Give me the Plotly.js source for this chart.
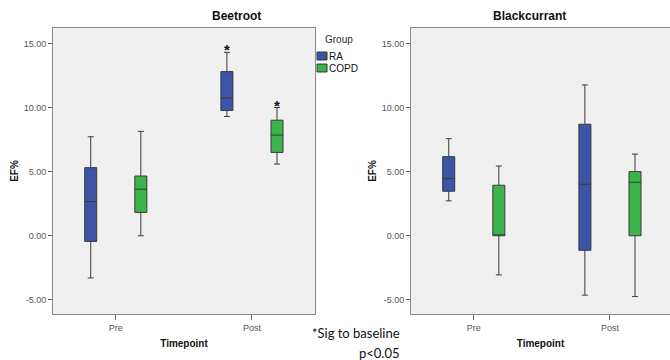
<!DOCTYPE html>
<html>
<head>
<meta charset="utf-8">
<script src="https://cdn.plot.ly/plotly-3.0.1.min.js"></script>
<style>html,body{margin:0;padding:0;background:#fff;}#chart{width:670px;height:360px;}</style>
</head>
<body>
<div id="chart"></div>
<script>
// ---- data ----
var timepoints = ['Pre', 'Post'];
var groups = ['RA', 'COPD'];
var yTicks = [-5, 0, 5, 10, 15];
var yTickLabels = ['-5.00', '0.00', '5.00', '10.00', '15.00'];

// Beetroot
var beetRA_low  = [-3.29, 9.30];
var beetRA_q1   = [-0.44, 9.77];
var beetRA_med  = [2.67, 10.75];
var beetRA_q3   = [5.31, 12.80];
var beetRA_up   = [7.72, 14.30];
var beetCOPD_low = [0.00, 5.59];
var beetCOPD_q1  = [1.82, 6.50];
var beetCOPD_med = [3.63, 7.85];
var beetCOPD_q3  = [4.66, 9.01];
var beetCOPD_up  = [8.14, 10.00];

// Blackcurrant
var blackRA_low  = [2.72, -4.63];
var blackRA_q1   = [3.47, -1.13];
var blackRA_med  = [4.46, 4.02];
var blackRA_q3   = [6.17, 8.70];
var blackRA_up   = [7.57, 11.76];
var blackCOPD_low = [-3.05, -4.74];
var blackCOPD_q1  = [0.00, 0.00];
var blackCOPD_med = [0.00, 4.17];
var blackCOPD_q3  = [3.94, 5.00];
var blackCOPD_up  = [5.44, 6.37];

// significance markers (Beetroot, Post)
var sigX = ['Post', 'Post'];
var sigGroup = ['RA', 'COPD'];
var sigY = [14.75, 10.4];

var colors = {RA: '#3b54a5', COPD: '#3cb44b'};
var FONT = 'Liberation Sans, Arial, sans-serif';

function boxTrace(name, q1, med, q3, lo, up, xa, ya) {
  return {
    type: 'box', name: name, x: timepoints, offsetgroup: name,
    q1: q1, median: med, q3: q3, lowerfence: lo, upperfence: up,
    xaxis: xa, yaxis: ya, legendgroup: name, showlegend: false,
    fillcolor: colors[name], boxpoints: false, whiskerwidth: 0.5,
    line: {color: '#3a3a3a', width: 1}, hoverinfo: 'skip'
  };
}

var data = [
  boxTrace('RA', beetRA_q1, beetRA_med, beetRA_q3, beetRA_low, beetRA_up, 'x', 'y'),
  boxTrace('COPD', beetCOPD_q1, beetCOPD_med, beetCOPD_q3, beetCOPD_low, beetCOPD_up, 'x', 'y'),
  boxTrace('RA', blackRA_q1, blackRA_med, blackRA_q3, blackRA_low, blackRA_up, 'x2', 'y2'),
  boxTrace('COPD', blackCOPD_q1, blackCOPD_med, blackCOPD_q3, blackCOPD_low, blackCOPD_up, 'x2', 'y2')
];

var tickFont = {family: FONT, size: 9, color: '#555'};
var axTitleFont = {family: FONT, size: 10, color: '#111'};

function xAxis(domain, range, anchor, mirror) {
  return {
    domain: domain, anchor: anchor, type: 'category', categoryarray: timepoints, categoryorder: 'array',
    range: range, showgrid: false, zeroline: false, showline: true, mirror: mirror,
    linecolor: '#8a8a8a', linewidth: 1, ticks: 'outside', ticklen: 5, tickcolor: '#666',
    tickfont: tickFont, fixedrange: true,
    title: {text: '<b>Timepoint</b>', font: axTitleFont, standoff: 8}
  };
}
function yAxis(anchor, mirror) {
  return {
    anchor: anchor, range: [-6.1, 16.2], tickvals: yTicks, ticktext: yTickLabels,
    showgrid: false, zeroline: false, showline: true, mirror: mirror,
    linecolor: '#8a8a8a', linewidth: 1, ticks: 'outside', ticklen: 4, tickcolor: '#666',
    tickfont: tickFont, fixedrange: true,
    title: {text: '<b>EF%</b>', font: axTitleFont, standoff: 3}
  };
}

var annotations = [
  {text: '<b>Beetroot</b>', xref: 'paper', yref: 'paper', x: 210/670, y: 1, yanchor: 'bottom', yshift: 3, showarrow: false,
   font: {family: FONT, size: 12, color: '#111'}},
  {text: '<b>Blackcurrant</b>', xref: 'paper', yref: 'paper', x: 568/670, y: 1, yanchor: 'bottom', yshift: 3, showarrow: false,
   font: {family: FONT, size: 12, color: '#111'}},
  {text: '*Sig to baseline', xref: 'paper', yref: 'paper', x: 402/670, xanchor: 'right', y: 0, yanchor: 'middle', yshift: -19,
   showarrow: false, font: {family: 'Lato, sans-serif', size: 13, color: '#111'}},
  {text: 'p<0.05', xref: 'paper', yref: 'paper', x: 402/670, xanchor: 'right', y: 0, yanchor: 'middle', yshift: -39,
   showarrow: false, font: {family: 'Lato, sans-serif', size: 13, color: '#111'}},
  // legend (manual, SPSS style)
  {text: 'Group', xref: 'paper', yref: 'paper', x: 323/670, xanchor: 'left', y: 1, yanchor: 'middle', yshift: -11,
   showarrow: false, font: {family: FONT, size: 10, color: '#333'}}
];
var shapes = [];
for (var g = 0; g < groups.length; g++) {
  shapes.push({type: 'rect', xref: 'paper', yref: 'paper', x0: 317/670, x1: 327/670,
    y0: 1 - (32 + g * 12) / 286, y1: 1 - (24 + g * 12) / 286,
    fillcolor: colors[groups[g]], line: {color: '#333', width: 1}});
  annotations.push({text: groups[g], xref: 'paper', yref: 'paper', x: 327/670, xanchor: 'left',
    y: 1 - (28 + g * 12) / 286, yanchor: 'middle', showarrow: false,
    font: {family: FONT, size: 10, color: '#111'}});
}
for (var i = 0; i < sigX.length; i++) {
  annotations.push({
    text: '<b>*</b>', xref: 'x', yref: 'y', x: sigX[i], y: sigY[i], showarrow: false,
    xshift: sigGroup[i] === 'RA' ? -25 : 25, yshift: -3,
    font: {family: FONT, size: 15, color: '#111'}
  });
}

var layout = {
  width: 670, height: 360,
  margin: {l: 0, r: 0, t: 28, b: 46},
  paper_bgcolor: '#ffffff', plot_bgcolor: '#f0f0f0',
  boxmode: 'group', boxgap: 0.264, boxgroupgap: 0.76,
  xaxis: xAxis([53/670, 315/670], [-0.461, 1.463], 'y', true),
  yaxis: yAxis('x', true),
  xaxis2: xAxis([411/670, 1], [-0.461, 1.441], 'y2', true),
  yaxis2: yAxis('x2', false),
  showlegend: false,
  annotations: annotations,
  shapes: shapes
};

Plotly.newPlot('chart', data, layout, {displayModeBar: false, staticPlot: true});
</script>
</body>
</html>
